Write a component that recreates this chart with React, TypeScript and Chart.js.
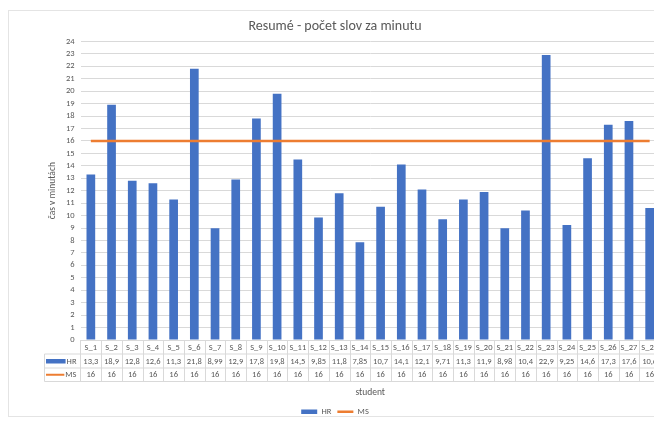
import React, { useEffect, useRef } from 'react';
import { Chart, registerables } from 'chart.js';

Chart.register(...registerables);

const chartTitle = 'Resumé - počet slov za minutu';
const xAxisTitle = 'student';
const yAxisTitle = 'čas v minutách';

const categories = [
  'S_1', 'S_2', 'S_3', 'S_4', 'S_5', 'S_6', 'S_7', 'S_8', 'S_9', 'S_10',
  'S_11', 'S_12', 'S_13', 'S_14', 'S_15', 'S_16', 'S_17', 'S_18', 'S_19', 'S_20',
  'S_21', 'S_22', 'S_23', 'S_24', 'S_25', 'S_26', 'S_27', 'S_28',
];

const hrName = 'HR';
const hrValues = [
  13.3, 18.9, 12.8, 12.6, 11.3, 21.8, 8.99, 12.9, 17.8, 19.8,
  14.5, 9.85, 11.8, 7.85, 10.7, 14.1, 12.1, 9.71, 11.3, 11.9,
  8.98, 10.4, 22.9, 9.25, 14.6, 17.3, 17.6, 10.6,
];

const msName = 'MS';
const msValues = [
  16, 16, 16, 16, 16, 16, 16, 16, 16, 16,
  16, 16, 16, 16, 16, 16, 16, 16, 16, 16,
  16, 16, 16, 16, 16, 16, 16, 16,
];

const yMin = 0;
const yMax = 24;
const yStep = 1;

const FONT = 'Carlito, Lato, "Open Sans", sans-serif';
const TEXT = '#595959';
const GRID = '#d9d9d9';
const BLUE = '#4472C4';
const ORANGE = '#ED7D31';

const fmt = (v: number) => String(v).replace('.', ',');

const framePlugin = {
  id: 'frame',
  beforeDraw(chart: any) {
    const { ctx, width, height } = chart;
    ctx.save();
    ctx.fillStyle = '#ffffff';
    ctx.fillRect(0, 0, width, height);
    ctx.strokeStyle = '#e4e4e4';
    ctx.lineWidth = 1;
    ctx.strokeRect(8.5, 10.5, width + 20, 406);
    ctx.restore();
  },
};

const tablePlugin = {
  id: 'dataTable',
  afterDraw(chart: any) {
    const { ctx, chartArea } = chart;
    const x = chart.scales.x;
    const n = categories.length;
    const half = (x.getPixelForValue(1) - x.getPixelForValue(0)) / 2;
    const top = chartArea.bottom;
    const r1 = top + 14;
    const r2 = r1 + 14;
    const r3 = r2 + 13.5;
    const tableLeft = 44.5;
    const tableRight = x.getPixelForValue(n - 1) + half;

    const line = (x1: number, y1: number, x2: number, y2: number) => {
      ctx.beginPath();
      ctx.moveTo(x1, y1);
      ctx.lineTo(x2, y2);
      ctx.stroke();
    };

    ctx.save();
    ctx.strokeStyle = GRID;
    ctx.lineWidth = 1;
    line(tableLeft, r1, tableRight, r1);
    line(tableLeft, r2, tableRight, r2);
    line(tableLeft, r3, tableRight, r3);
    line(tableLeft, r1, tableLeft, r3);
    for (let i = 0; i <= n; i++) {
      const xv = Math.round(x.getPixelForValue(Math.min(i, n - 1)) + (i === n ? half : -half)) + 0.5;
      line(xv, top, xv, r3);
    }

    ctx.fillStyle = TEXT;
    ctx.font = `8.5px ${FONT}`;
    ctx.textAlign = 'center';
    ctx.textBaseline = 'middle';
    for (let i = 0; i < n; i++) {
      const cx = x.getPixelForValue(i);
      ctx.fillText(categories[i], cx, (top + r1) / 2 + 0.5);
      ctx.fillText(fmt(hrValues[i]), cx, (r1 + r2) / 2 + 0.5);
      ctx.fillText(fmt(msValues[i]), cx, (r2 + r3) / 2 + 0.5);
    }

    ctx.textAlign = 'right';
    const keyRight = chartArea.left - 4;
    ctx.fillText(hrName, keyRight, (r1 + r2) / 2 + 0.5);
    ctx.fillText(msName, keyRight, (r2 + r3) / 2 + 0.5);
    const hrW = ctx.measureText(hrName).width;
    const msW = ctx.measureText(msName).width;
    ctx.fillStyle = BLUE;
    ctx.fillRect(46, (r1 + r2) / 2 - 2, keyRight - hrW - 47, 4.5);
    ctx.strokeStyle = ORANGE;
    ctx.lineWidth = 2;
    line(46, (r2 + r3) / 2, keyRight - msW - 1, (r2 + r3) / 2);
    ctx.restore();
  },
};

export default function App() {
  const ref = useRef<HTMLCanvasElement>(null);

  useEffect(() => {
    const chart = new Chart(ref.current as HTMLCanvasElement, {
      type: 'bar',
      data: {
        labels: categories,
        datasets: [
          {
            type: 'bar',
            label: hrName,
            data: hrValues,
            backgroundColor: BLUE,
            borderWidth: 0,
            barPercentage: 0.42,
            categoryPercentage: 1,
            pointStyle: 'rect',
            order: 1,
          } as any,
          {
            type: 'line',
            label: msName,
            data: msValues,
            borderColor: ORANGE,
            backgroundColor: ORANGE,
            borderWidth: 2.5,
            pointRadius: 0,
            pointStyle: 'line',
            order: 0,
          } as any,
        ],
      },
      options: {
        responsive: false,
        animation: false,
        layout: { padding: { left: 10, right: 20, top: 0, bottom: 4 } },
        plugins: {
          title: {
            display: true,
            text: chartTitle,
            color: TEXT,
            font: { size: 14, weight: 'normal', family: FONT },
            padding: { top: 17.6, bottom: 7.0 },
          },
          legend: {
            position: 'bottom',
            labels: {
              usePointStyle: true,
              pointStyleWidth: 16,
              boxHeight: 4.5,
              color: TEXT,
              font: { size: 8.5, family: FONT },
              padding: 6,
              sort: (a: any, b: any) => a.datasetIndex - b.datasetIndex,
            },
          },
          tooltip: { enabled: false },
        },
        scales: {
          x: {
            grid: { display: false },
            border: { display: false },
            ticks: { display: false },
            title: {
              display: true,
              text: xAxisTitle,
              color: TEXT,
              font: { size: 9.5, family: FONT },
              padding: { top: 0, bottom: 3.3 },
            },
            afterFit: (s: any) => {
              s.height = 61.5;
            },
          },
          y: {
            min: yMin,
            max: yMax,
            ticks: {
              stepSize: yStep,
              autoSkip: false,
              color: TEXT,
              font: { size: 8.5, family: FONT },
              padding: 6,
            },
            grid: { color: GRID, drawTicks: false },
            border: { display: false },
            title: {
              display: true,
              text: yAxisTitle,
              color: TEXT,
              font: { size: 9.5, family: FONT },
              padding: { top: 37.3, bottom: 0 },
            },
            afterFit: (s: any) => {
              s.width = 70.5;
            },
          },
        },
      } as any,
      plugins: [framePlugin, tablePlugin],
    });
    return () => chart.destroy();
  }, []);

  return (
    <div
      style={{
        position: 'absolute',
        left: 0,
        top: 0,
        width: 654,
        height: 421,
        overflow: 'hidden',
        background: '#fff',
      }}
    >
      <canvas
        ref={ref}
        width={680}
        height={430}
        style={{ display: 'block', width: 680, height: 430 }}
      />
    </div>
  );
}
